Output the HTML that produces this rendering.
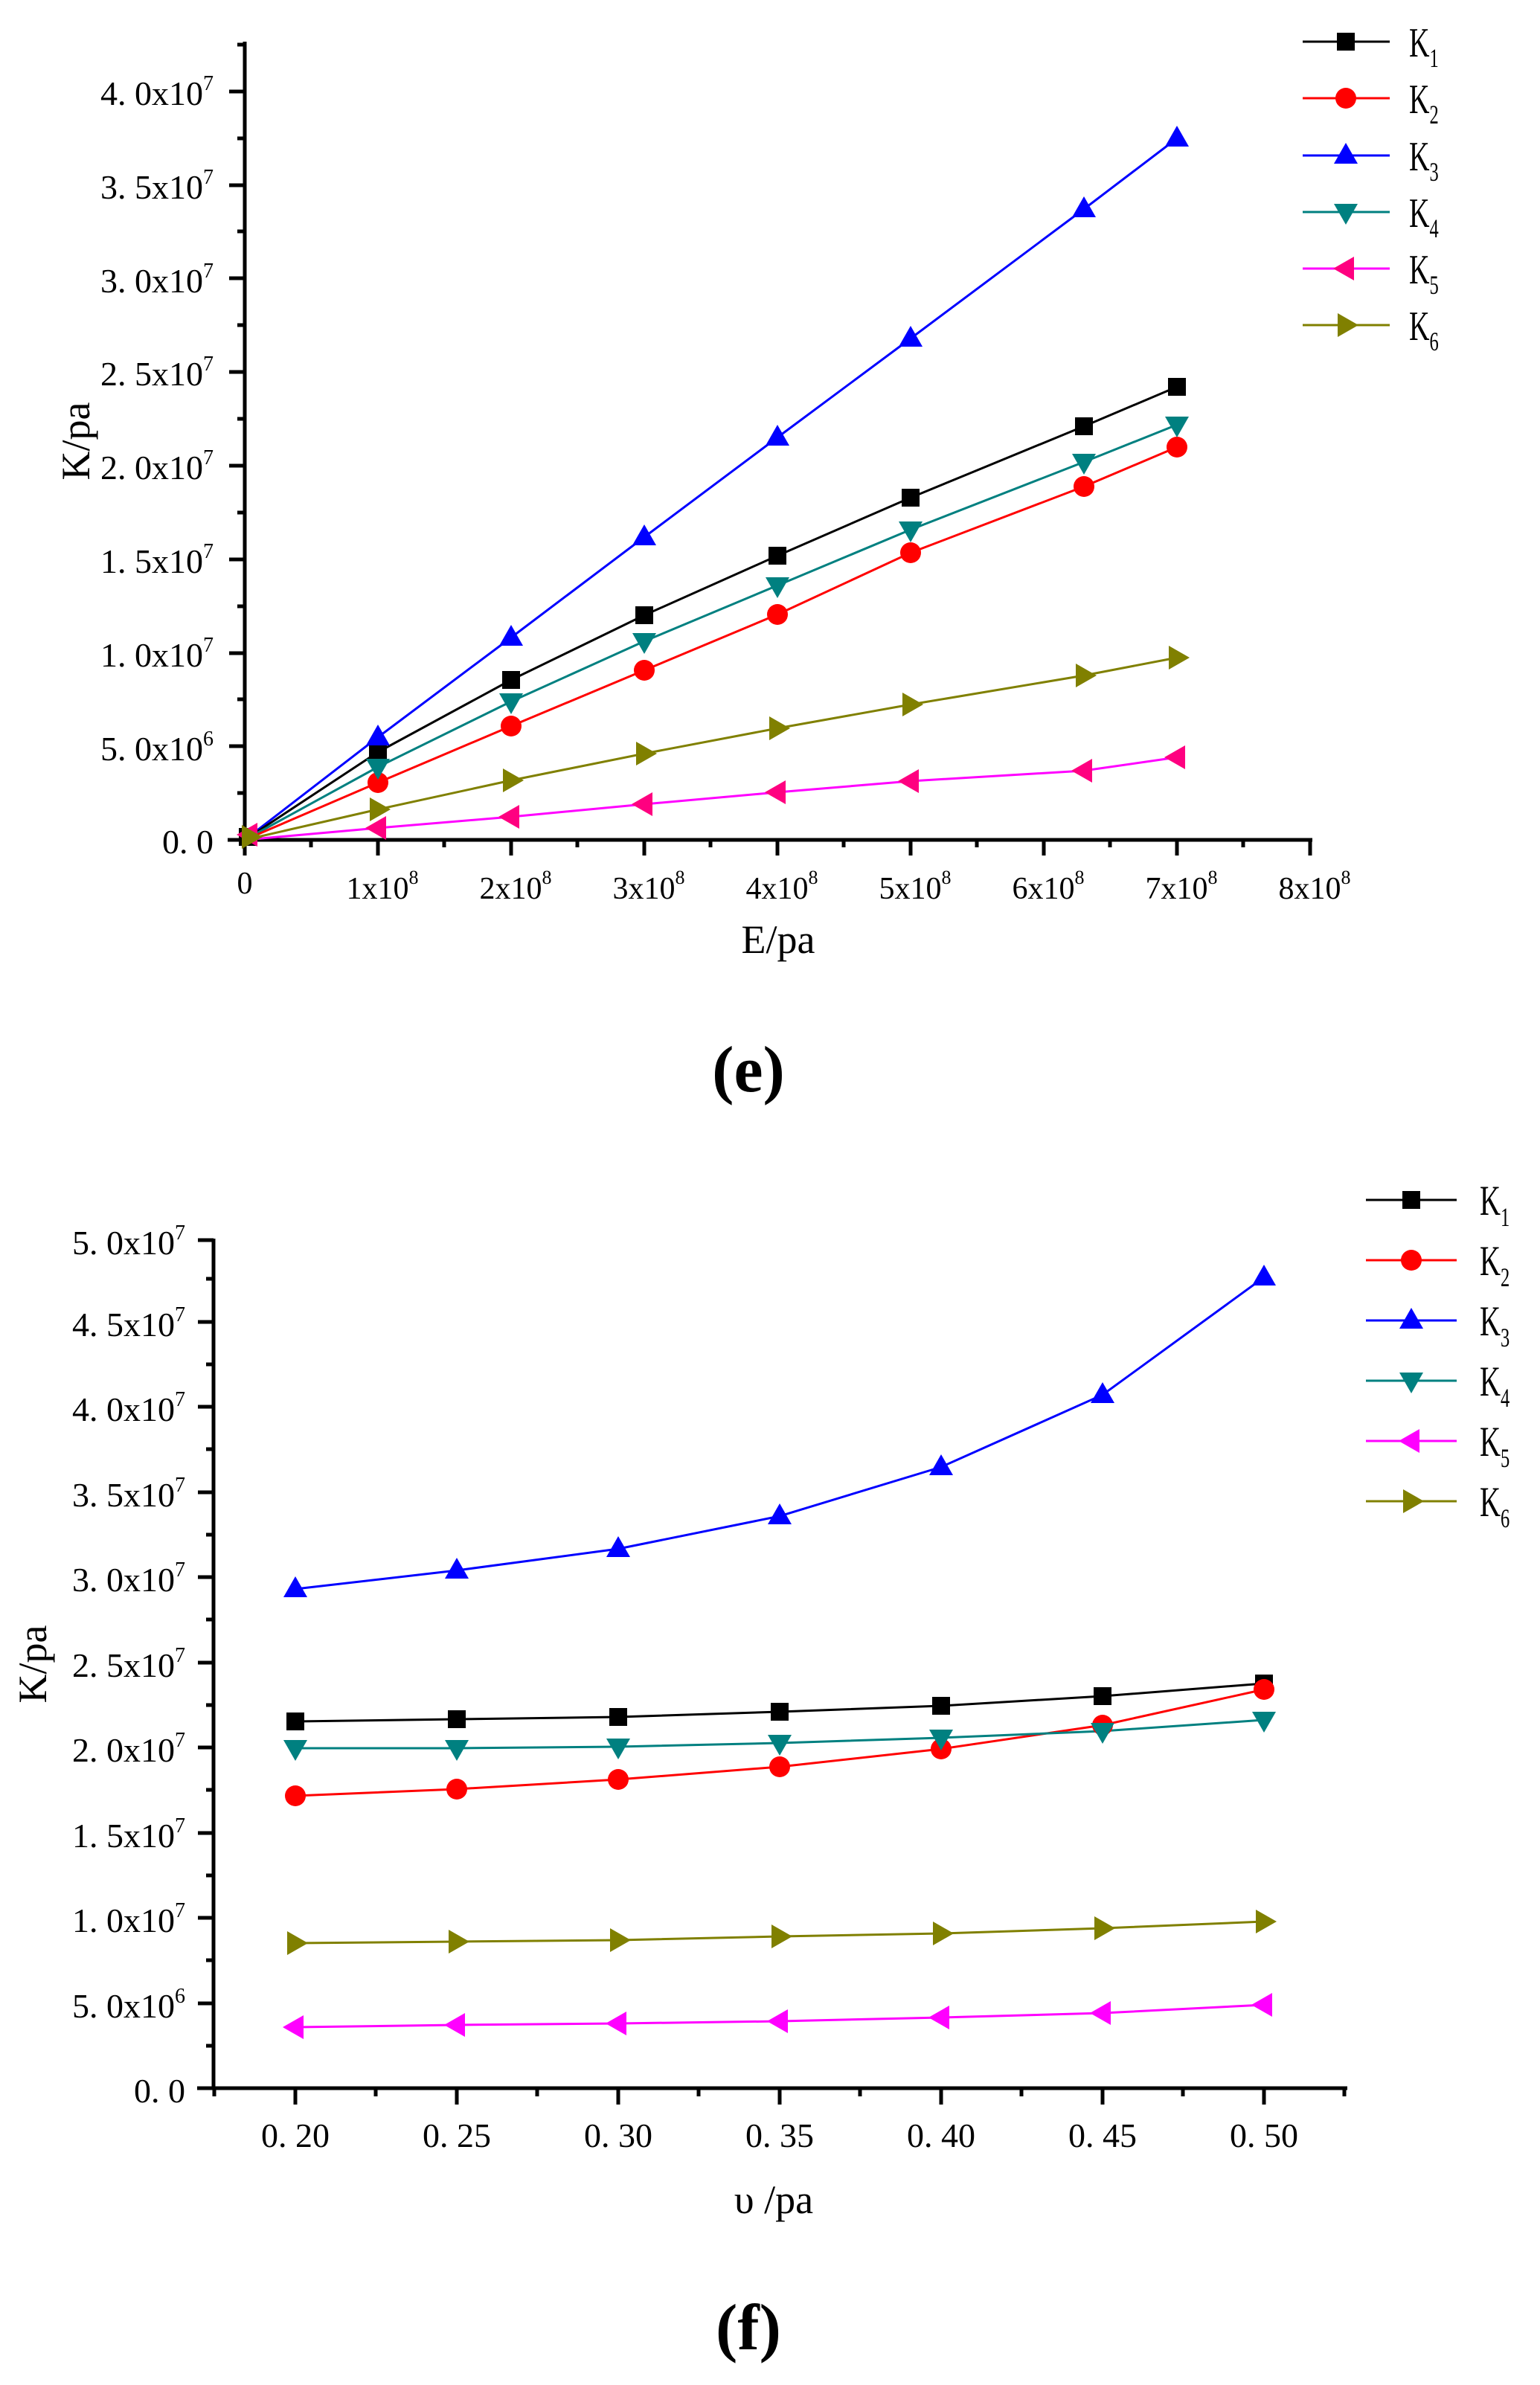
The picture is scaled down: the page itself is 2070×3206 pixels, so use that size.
<!DOCTYPE html>
<html><head><meta charset="utf-8"><style>
html,body{margin:0;padding:0;background:#fff;}
svg{display:block;}
text{font-family:"Liberation Serif",serif;fill:#000;}
</style></head><body>
<svg width="2070" height="3206" viewBox="0 0 2070 3206" xmlns="http://www.w3.org/2000/svg">
<defs>
<g id="sq"><rect x="-12" y="-12" width="24" height="24" fill="#000"/></g>
<g id="ci"><circle r="14" fill="#f00"/></g>
<g id="tu"><polygon points="0,-17 16,11 -16,11" fill="#00f"/></g>
<g id="td"><polygon points="0,17 16,-11 -16,-11" fill="#008080"/></g>
<g id="tl"><polygon points="-17,0 11,-16 11,16" fill="#ff0080"/></g>
<g id="tl2"><polygon points="-17,0 11,-16 11,16" fill="#f0f"/></g>
<g id="tr"><polygon points="17,0 -11,-16 -11,16" fill="#808000"/></g>
</defs>

<!-- ===== Chart (e) ===== -->
<g stroke="#000" stroke-width="5" fill="none">
<line x1="329" y1="56" x2="329" y2="1131"/>
<line x1="306" y1="1129" x2="1764" y2="1129"/>
</g>
<g stroke="#000" stroke-width="5">
<!-- y major -->
<line x1="308" y1="1129" x2="329" y2="1129"/><line x1="308" y1="1003" x2="329" y2="1003"/>
<line x1="308" y1="878" x2="329" y2="878"/><line x1="308" y1="752" x2="329" y2="752"/>
<line x1="308" y1="626" x2="329" y2="626"/><line x1="308" y1="500" x2="329" y2="500"/>
<line x1="308" y1="374" x2="329" y2="374"/><line x1="308" y1="249" x2="329" y2="249"/>
<line x1="308" y1="123" x2="329" y2="123"/>
<!-- y minor -->
<line x1="319" y1="1066" x2="329" y2="1066"/><line x1="319" y1="940" x2="329" y2="940"/>
<line x1="319" y1="815" x2="329" y2="815"/><line x1="319" y1="689" x2="329" y2="689"/>
<line x1="319" y1="563" x2="329" y2="563"/><line x1="319" y1="437" x2="329" y2="437"/>
<line x1="319" y1="311" x2="329" y2="311"/><line x1="319" y1="186" x2="329" y2="186"/>
<line x1="319" y1="60" x2="329" y2="60"/>
<!-- x major -->
<line x1="329" y1="1129" x2="329" y2="1150"/><line x1="508" y1="1129" x2="508" y2="1150"/>
<line x1="687" y1="1129" x2="687" y2="1150"/><line x1="866" y1="1129" x2="866" y2="1150"/>
<line x1="1045" y1="1129" x2="1045" y2="1150"/><line x1="1224" y1="1129" x2="1224" y2="1150"/>
<line x1="1403" y1="1129" x2="1403" y2="1150"/><line x1="1582" y1="1129" x2="1582" y2="1150"/>
<line x1="1761" y1="1129" x2="1761" y2="1150"/>
<!-- x minor -->
<line x1="418" y1="1129" x2="418" y2="1139"/><line x1="597" y1="1129" x2="597" y2="1139"/>
<line x1="776" y1="1129" x2="776" y2="1139"/><line x1="955" y1="1129" x2="955" y2="1139"/>
<line x1="1134" y1="1129" x2="1134" y2="1139"/><line x1="1313" y1="1129" x2="1313" y2="1139"/>
<line x1="1492" y1="1129" x2="1492" y2="1139"/><line x1="1671" y1="1129" x2="1671" y2="1139"/>
</g>
<g font-size="46" text-anchor="end">
<text x="287" y="1147">0. 0</text>
<text x="287" y="1022">5. 0x10<tspan font-size="28" dy="-20">6</tspan></text>
<text x="287" y="896">1. 0x10<tspan font-size="28" dy="-20">7</tspan></text>
<text x="287" y="770">1. 5x10<tspan font-size="28" dy="-20">7</tspan></text>
<text x="287" y="644">2. 0x10<tspan font-size="28" dy="-20">7</tspan></text>
<text x="287" y="518">2. 5x10<tspan font-size="28" dy="-20">7</tspan></text>
<text x="287" y="393">3. 0x10<tspan font-size="28" dy="-20">7</tspan></text>
<text x="287" y="267">3. 5x10<tspan font-size="28" dy="-20">7</tspan></text>
<text x="287" y="141">4. 0x10<tspan font-size="28" dy="-20">7</tspan></text>
</g>
<g font-size="42" text-anchor="middle">
<text x="329" y="1201">0</text>
<text x="514" y="1208">1x10<tspan font-size="26" dy="-20">8</tspan></text>
<text x="693" y="1208">2x10<tspan font-size="26" dy="-20">8</tspan></text>
<text x="872" y="1208">3x10<tspan font-size="26" dy="-20">8</tspan></text>
<text x="1051" y="1208">4x10<tspan font-size="26" dy="-20">8</tspan></text>
<text x="1230" y="1208">5x10<tspan font-size="26" dy="-20">8</tspan></text>
<text x="1409" y="1208">6x10<tspan font-size="26" dy="-20">8</tspan></text>
<text x="1588" y="1208">7x10<tspan font-size="26" dy="-20">8</tspan></text>
<text x="1767" y="1208">8x10<tspan font-size="26" dy="-20">8</tspan></text>
</g>
<text x="1046" y="1281" font-size="54" text-anchor="middle">E/pa</text>
<text transform="translate(120,593) rotate(-90)" font-size="54" text-anchor="middle">K/pa</text>
<text x="1006" y="1467" font-size="88" font-weight="bold" text-anchor="middle">(e)</text>

<g fill="none" stroke-width="3">
<polyline stroke="#00f" points="329,1129 508,991 687,857 866,722 1045,588 1224,455 1457,281 1582,186"/>
<polyline stroke="#000" points="329,1129 508,1011 687,914 866,827 1045,747 1224,669 1457,573 1582,520"/>
<polyline stroke="#008080" points="329,1129 508,1031 687,943 866,862 1045,787 1224,712 1457,621 1582,571"/>
<polyline stroke="#f00" points="329,1129 508,1052 687,976 866,901 1045,826 1224,743 1457,654 1582,601"/>
<polyline stroke="#808000" points="329,1129 508,1088 687,1049 866,1013 1045,979 1224,947 1457,908 1582,884"/>
<polyline stroke="#f0f" points="329,1129 508,1113 687,1098 866,1081 1045,1065 1224,1050 1457,1036 1582,1018"/>
</g>
<use href="#sq" x="508" y="1011"/><use href="#sq" x="687" y="914"/><use href="#sq" x="866" y="827"/><use href="#sq" x="1045" y="747"/><use href="#sq" x="1224" y="669"/><use href="#sq" x="1457" y="573"/><use href="#sq" x="1582" y="520"/>
<use href="#ci" x="508" y="1052"/><use href="#ci" x="687" y="976"/><use href="#ci" x="866" y="901"/><use href="#ci" x="1045" y="826"/><use href="#ci" x="1224" y="743"/><use href="#ci" x="1457" y="654"/><use href="#ci" x="1582" y="601"/>
<use href="#tu" x="508" y="991"/><use href="#tu" x="687" y="857"/><use href="#tu" x="866" y="722"/><use href="#tu" x="1045" y="588"/><use href="#tu" x="1224" y="455"/><use href="#tu" x="1457" y="281"/><use href="#tu" x="1582" y="186"/>
<use href="#td" x="508" y="1031"/><use href="#td" x="687" y="943"/><use href="#td" x="866" y="862"/><use href="#td" x="1045" y="787"/><use href="#td" x="1224" y="712"/><use href="#td" x="1457" y="621"/><use href="#td" x="1582" y="571"/>
<use href="#tl" x="508" y="1113"/><use href="#tl" x="687" y="1098"/><use href="#tl" x="866" y="1081"/><use href="#tl" x="1045" y="1065"/><use href="#tl" x="1224" y="1050"/><use href="#tl" x="1457" y="1036"/><use href="#tl" x="1582" y="1018"/>
<use href="#tr" x="508" y="1088"/><use href="#tr" x="687" y="1049"/><use href="#tr" x="866" y="1013"/><use href="#tr" x="1045" y="979"/><use href="#tr" x="1224" y="947"/><use href="#tr" x="1457" y="908"/><use href="#tr" x="1582" y="884"/>
<use href="#sq" x="333" y="1125"/><use href="#tl" x="335" y="1122"/><use href="#tr" x="336" y="1125"/>

<!-- legend e -->
<g stroke-width="3">
<line x1="1751" y1="56" x2="1868" y2="56" stroke="#000"/>
<line x1="1751" y1="132" x2="1868" y2="132" stroke="#f00"/>
<line x1="1751" y1="209" x2="1868" y2="209" stroke="#00f"/>
<line x1="1751" y1="285" x2="1868" y2="285" stroke="#008080"/>
<line x1="1751" y1="361" x2="1868" y2="361" stroke="#f0f"/>
<line x1="1751" y1="437" x2="1868" y2="437" stroke="#808000"/>
</g>
<use href="#sq" x="1809" y="56"/><use href="#ci" x="1809" y="132"/><use href="#tu" x="1809" y="209"/><use href="#td" x="1809" y="285"/><use href="#tl" x="1809" y="361"/><use href="#tr" x="1809" y="437"/>
<g font-size="56">
<text transform="translate(1894,76) scale(0.68,1)">K<tspan font-size="36" dy="14">1</tspan></text>
<text transform="translate(1894,152) scale(0.68,1)">K<tspan font-size="36" dy="14">2</tspan></text>
<text transform="translate(1894,229) scale(0.68,1)">K<tspan font-size="36" dy="14">3</tspan></text>
<text transform="translate(1894,305) scale(0.68,1)">K<tspan font-size="36" dy="14">4</tspan></text>
<text transform="translate(1894,381) scale(0.68,1)">K<tspan font-size="36" dy="14">5</tspan></text>
<text transform="translate(1894,457) scale(0.68,1)">K<tspan font-size="36" dy="14">6</tspan></text>
</g>

<!-- ===== Chart (f) ===== -->
<g stroke="#000" stroke-width="5" fill="none">
<line x1="287" y1="1665" x2="287" y2="2809"/>
<line x1="265" y1="2807" x2="1811" y2="2807"/>
</g>
<g stroke="#000" stroke-width="5">
<line x1="266" y1="2807" x2="287" y2="2807"/><line x1="266" y1="2693" x2="287" y2="2693"/>
<line x1="266" y1="2578" x2="287" y2="2578"/><line x1="266" y1="2464" x2="287" y2="2464"/>
<line x1="266" y1="2349" x2="287" y2="2349"/><line x1="266" y1="2235" x2="287" y2="2235"/>
<line x1="266" y1="2120" x2="287" y2="2120"/><line x1="266" y1="2006" x2="287" y2="2006"/>
<line x1="266" y1="1891" x2="287" y2="1891"/><line x1="266" y1="1777" x2="287" y2="1777"/>
<line x1="266" y1="1667" x2="287" y2="1667"/>
<line x1="277" y1="2750" x2="287" y2="2750"/><line x1="277" y1="2635" x2="287" y2="2635"/>
<line x1="277" y1="2521" x2="287" y2="2521"/><line x1="277" y1="2406" x2="287" y2="2406"/>
<line x1="277" y1="2292" x2="287" y2="2292"/><line x1="277" y1="2177" x2="287" y2="2177"/>
<line x1="277" y1="2063" x2="287" y2="2063"/><line x1="277" y1="1948" x2="287" y2="1948"/>
<line x1="277" y1="1834" x2="287" y2="1834"/><line x1="277" y1="1719" x2="287" y2="1719"/>
<line x1="397" y1="2807" x2="397" y2="2829"/><line x1="614" y1="2807" x2="614" y2="2829"/>
<line x1="831" y1="2807" x2="831" y2="2829"/><line x1="1048" y1="2807" x2="1048" y2="2829"/>
<line x1="1265" y1="2807" x2="1265" y2="2829"/><line x1="1482" y1="2807" x2="1482" y2="2829"/>
<line x1="1699" y1="2807" x2="1699" y2="2829"/>
<line x1="288" y1="2807" x2="288" y2="2818"/><line x1="505" y1="2807" x2="505" y2="2818"/>
<line x1="722" y1="2807" x2="722" y2="2818"/><line x1="939" y1="2807" x2="939" y2="2818"/>
<line x1="1156" y1="2807" x2="1156" y2="2818"/><line x1="1373" y1="2807" x2="1373" y2="2818"/>
<line x1="1590" y1="2807" x2="1590" y2="2818"/><line x1="1807" y1="2807" x2="1807" y2="2818"/>
</g>
<g font-size="46" text-anchor="end">
<text x="249" y="2826">0. 0</text>
<text x="249" y="2712">5. 0x10<tspan font-size="28" dy="-20">6</tspan></text>
<text x="249" y="2597">1. 0x10<tspan font-size="28" dy="-20">7</tspan></text>
<text x="249" y="2483">1. 5x10<tspan font-size="28" dy="-20">7</tspan></text>
<text x="249" y="2368">2. 0x10<tspan font-size="28" dy="-20">7</tspan></text>
<text x="249" y="2254">2. 5x10<tspan font-size="28" dy="-20">7</tspan></text>
<text x="249" y="2139">3. 0x10<tspan font-size="28" dy="-20">7</tspan></text>
<text x="249" y="2025">3. 5x10<tspan font-size="28" dy="-20">7</tspan></text>
<text x="249" y="1910">4. 0x10<tspan font-size="28" dy="-20">7</tspan></text>
<text x="249" y="1796">4. 5x10<tspan font-size="28" dy="-20">7</tspan></text>
<text x="249" y="1686">5. 0x10<tspan font-size="28" dy="-20">7</tspan></text>
</g>
<g font-size="46" text-anchor="middle">
<text x="397" y="2886">0. 20</text><text x="614" y="2886">0. 25</text>
<text x="831" y="2886">0. 30</text><text x="1048" y="2886">0. 35</text>
<text x="1265" y="2886">0. 40</text><text x="1482" y="2886">0. 45</text>
<text x="1699" y="2886">0. 50</text>
</g>
<text x="1040" y="2975" font-size="54" text-anchor="middle">υ /pa</text>
<text transform="translate(62,2237) rotate(-90)" font-size="54" text-anchor="middle">K/pa</text>
<text x="1006" y="3158" font-size="88" font-weight="bold" text-anchor="middle">(f)</text>

<g fill="none" stroke-width="3">
<polyline stroke="#00f" points="397,2136 614,2111 831,2082 1048,2038 1265,1972 1482,1875 1699,1717"/>
<polyline stroke="#000" points="397,2314 614,2311 831,2308 1048,2301 1265,2293 1482,2280 1699,2263"/>
<polyline stroke="#f00" points="397,2414 614,2405 831,2392 1048,2375 1265,2351 1482,2319 1699,2271"/>
<polyline stroke="#008080" points="397,2350 614,2350 831,2348 1048,2343 1265,2336 1482,2327 1699,2312"/>
<polyline stroke="#808000" points="397,2612 614,2610 831,2608 1048,2603 1265,2599 1482,2592 1699,2583"/>
<polyline stroke="#f0f" points="397,2725 614,2722 831,2720 1048,2717 1265,2712 1482,2706 1699,2695"/>
</g>
<use href="#sq" x="397" y="2314"/><use href="#sq" x="614" y="2311"/><use href="#sq" x="831" y="2308"/><use href="#sq" x="1048" y="2301"/><use href="#sq" x="1265" y="2293"/><use href="#sq" x="1482" y="2280"/><use href="#sq" x="1699" y="2263"/>
<use href="#ci" x="397" y="2414"/><use href="#ci" x="614" y="2405"/><use href="#ci" x="831" y="2392"/><use href="#ci" x="1048" y="2375"/><use href="#ci" x="1265" y="2351"/><use href="#ci" x="1482" y="2319"/><use href="#ci" x="1699" y="2271"/>
<use href="#tu" x="397" y="2136"/><use href="#tu" x="614" y="2111"/><use href="#tu" x="831" y="2082"/><use href="#tu" x="1048" y="2038"/><use href="#tu" x="1265" y="1972"/><use href="#tu" x="1482" y="1875"/><use href="#tu" x="1699" y="1717"/>
<use href="#td" x="397" y="2350"/><use href="#td" x="614" y="2350"/><use href="#td" x="831" y="2348"/><use href="#td" x="1048" y="2343"/><use href="#td" x="1265" y="2336"/><use href="#td" x="1482" y="2327"/><use href="#td" x="1699" y="2312"/>
<use href="#tl2" x="397" y="2725"/><use href="#tl2" x="614" y="2722"/><use href="#tl2" x="831" y="2720"/><use href="#tl2" x="1048" y="2717"/><use href="#tl2" x="1265" y="2712"/><use href="#tl2" x="1482" y="2706"/><use href="#tl2" x="1699" y="2695"/>
<use href="#tr" x="397" y="2612"/><use href="#tr" x="614" y="2610"/><use href="#tr" x="831" y="2608"/><use href="#tr" x="1048" y="2603"/><use href="#tr" x="1265" y="2599"/><use href="#tr" x="1482" y="2592"/><use href="#tr" x="1699" y="2583"/>

<!-- legend f -->
<g stroke-width="3">
<line x1="1836" y1="1613" x2="1958" y2="1613" stroke="#000"/>
<line x1="1836" y1="1694" x2="1958" y2="1694" stroke="#f00"/>
<line x1="1836" y1="1775" x2="1958" y2="1775" stroke="#00f"/>
<line x1="1836" y1="1856" x2="1958" y2="1856" stroke="#008080"/>
<line x1="1836" y1="1937" x2="1958" y2="1937" stroke="#f0f"/>
<line x1="1836" y1="2018" x2="1958" y2="2018" stroke="#808000"/>
</g>
<use href="#sq" x="1897" y="1613"/><use href="#ci" x="1897" y="1694"/><use href="#tu" x="1897" y="1775"/><use href="#td" x="1897" y="1856"/><use href="#tl2" x="1897" y="1937"/><use href="#tr" x="1897" y="2018"/>
<g font-size="57">
<text transform="translate(1989,1633) scale(0.68,1)">K<tspan font-size="36" dy="15">1</tspan></text>
<text transform="translate(1989,1714) scale(0.68,1)">K<tspan font-size="36" dy="15">2</tspan></text>
<text transform="translate(1989,1795) scale(0.68,1)">K<tspan font-size="36" dy="15">3</tspan></text>
<text transform="translate(1989,1876) scale(0.68,1)">K<tspan font-size="36" dy="15">4</tspan></text>
<text transform="translate(1989,1957) scale(0.68,1)">K<tspan font-size="36" dy="15">5</tspan></text>
<text transform="translate(1989,2038) scale(0.68,1)">K<tspan font-size="36" dy="15">6</tspan></text>
</g>
</svg>
</body></html>
